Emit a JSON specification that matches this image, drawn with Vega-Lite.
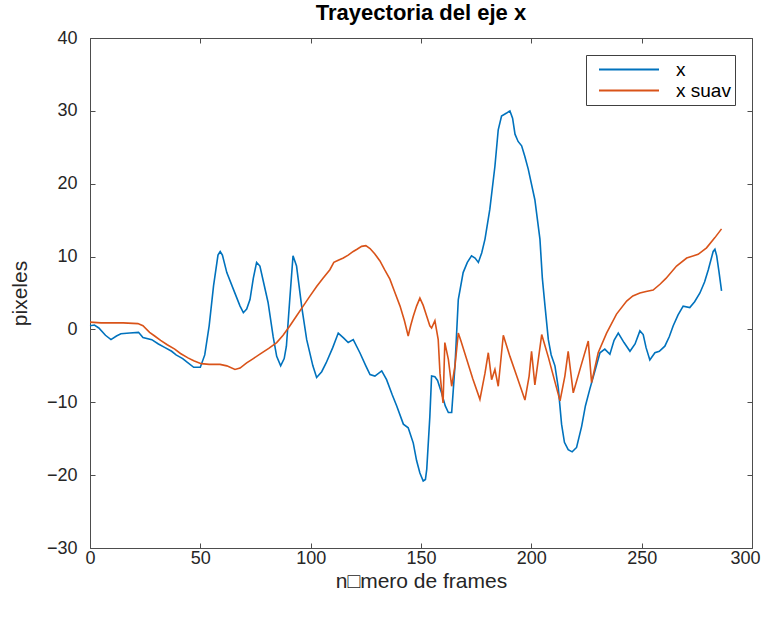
{
  "$schema": "https://vega.github.io/schema/vega-lite/v6.json",
  "autosize": {"type": "none"},
  "width": 662,
  "height": 510,
  "padding": {"left": 90, "top": 38, "right": 11, "bottom": 72},
  "background": "white",
  "title": {"text": "Trayectoria del eje x", "fontSize": 22, "font": "Liberation Sans", "fontWeight": "bold", "color": "#000000", "offset": 4},
  "config": {
    "view": {"stroke": null},
    "axis": {
      "domainColor": "#4d4d4d", "domainWidth": 1,
      "tickColor": "#4d4d4d", "tickSize": -5, "tickWidth": 1,
      "grid": false, "labelFlush": false,
      "labelFont": "Liberation Sans", "labelFontSize": 18, "labelColor": "#262626",
      "titleFont": "Liberation Sans", "titleFontSize": 21, "titleFontWeight": "normal", "titleColor": "#262626"
    }
  },
  "datasets": {
    "traj": [
      {"frame": 0, "pixeles": 0.5, "serie": "x"},
      {"frame": 2, "pixeles": 0.6, "serie": "x"},
      {"frame": 4, "pixeles": 0.2, "serie": "x"},
      {"frame": 7, "pixeles": -0.8, "serie": "x"},
      {"frame": 9.5, "pixeles": -1.4, "serie": "x"},
      {"frame": 12, "pixeles": -0.9, "serie": "x"},
      {"frame": 14, "pixeles": -0.6, "serie": "x"},
      {"frame": 18, "pixeles": -0.5, "serie": "x"},
      {"frame": 22, "pixeles": -0.4, "serie": "x"},
      {"frame": 24, "pixeles": -1.1, "serie": "x"},
      {"frame": 28, "pixeles": -1.4, "serie": "x"},
      {"frame": 31, "pixeles": -2.0, "serie": "x"},
      {"frame": 34, "pixeles": -2.5, "serie": "x"},
      {"frame": 37, "pixeles": -3.0, "serie": "x"},
      {"frame": 39, "pixeles": -3.5, "serie": "x"},
      {"frame": 42, "pixeles": -4.0, "serie": "x"},
      {"frame": 44, "pixeles": -4.5, "serie": "x"},
      {"frame": 47, "pixeles": -5.2, "serie": "x"},
      {"frame": 50, "pixeles": -5.2, "serie": "x"},
      {"frame": 52, "pixeles": -3.5, "serie": "x"},
      {"frame": 54, "pixeles": 0.5, "serie": "x"},
      {"frame": 56, "pixeles": 6.0, "serie": "x"},
      {"frame": 58, "pixeles": 10.2, "serie": "x"},
      {"frame": 59, "pixeles": 10.7, "serie": "x"},
      {"frame": 60, "pixeles": 10.2, "serie": "x"},
      {"frame": 62, "pixeles": 7.8, "serie": "x"},
      {"frame": 65, "pixeles": 5.5, "serie": "x"},
      {"frame": 68, "pixeles": 3.2, "serie": "x"},
      {"frame": 69.5, "pixeles": 2.3, "serie": "x"},
      {"frame": 71, "pixeles": 2.8, "serie": "x"},
      {"frame": 72.5, "pixeles": 4.1, "serie": "x"},
      {"frame": 74, "pixeles": 7.0, "serie": "x"},
      {"frame": 75.5, "pixeles": 9.2, "serie": "x"},
      {"frame": 77, "pixeles": 8.7, "serie": "x"},
      {"frame": 79, "pixeles": 6.0, "serie": "x"},
      {"frame": 80.7, "pixeles": 3.7, "serie": "x"},
      {"frame": 83, "pixeles": -1.0, "serie": "x"},
      {"frame": 84.6, "pixeles": -3.7, "serie": "x"},
      {"frame": 86.4, "pixeles": -5.0, "serie": "x"},
      {"frame": 88, "pixeles": -4.0, "serie": "x"},
      {"frame": 89, "pixeles": -2.3, "serie": "x"},
      {"frame": 90.5, "pixeles": 4.0, "serie": "x"},
      {"frame": 92, "pixeles": 10.1, "serie": "x"},
      {"frame": 93.6, "pixeles": 8.7, "serie": "x"},
      {"frame": 96, "pixeles": 3.0, "serie": "x"},
      {"frame": 98.2, "pixeles": -1.4, "serie": "x"},
      {"frame": 101, "pixeles": -5.0, "serie": "x"},
      {"frame": 102.7, "pixeles": -6.6, "serie": "x"},
      {"frame": 105, "pixeles": -5.8, "serie": "x"},
      {"frame": 107, "pixeles": -4.6, "serie": "x"},
      {"frame": 110, "pixeles": -2.5, "serie": "x"},
      {"frame": 112.5, "pixeles": -0.5, "serie": "x"},
      {"frame": 115, "pixeles": -1.2, "serie": "x"},
      {"frame": 117, "pixeles": -1.8, "serie": "x"},
      {"frame": 119.3, "pixeles": -1.4, "serie": "x"},
      {"frame": 122.3, "pixeles": -3.2, "serie": "x"},
      {"frame": 125, "pixeles": -5.0, "serie": "x"},
      {"frame": 126.9, "pixeles": -6.2, "serie": "x"},
      {"frame": 129.1, "pixeles": -6.4, "serie": "x"},
      {"frame": 132.2, "pixeles": -5.7, "serie": "x"},
      {"frame": 134.4, "pixeles": -6.9, "serie": "x"},
      {"frame": 137, "pixeles": -9.0, "serie": "x"},
      {"frame": 139, "pixeles": -10.5, "serie": "x"},
      {"frame": 142, "pixeles": -13.0, "serie": "x"},
      {"frame": 144.2, "pixeles": -13.5, "serie": "x"},
      {"frame": 146.5, "pixeles": -15.6, "serie": "x"},
      {"frame": 148, "pixeles": -18.0, "serie": "x"},
      {"frame": 149.5, "pixeles": -19.7, "serie": "x"},
      {"frame": 151, "pixeles": -20.8, "serie": "x"},
      {"frame": 152, "pixeles": -20.6, "serie": "x"},
      {"frame": 152.6, "pixeles": -19.2, "serie": "x"},
      {"frame": 154, "pixeles": -12.0, "serie": "x"},
      {"frame": 154.8, "pixeles": -6.4, "serie": "x"},
      {"frame": 156.3, "pixeles": -6.5, "serie": "x"},
      {"frame": 157.5, "pixeles": -7.0, "serie": "x"},
      {"frame": 159.3, "pixeles": -8.7, "serie": "x"},
      {"frame": 161, "pixeles": -10.5, "serie": "x"},
      {"frame": 162.4, "pixeles": -11.4, "serie": "x"},
      {"frame": 163.9, "pixeles": -11.4, "serie": "x"},
      {"frame": 165.4, "pixeles": -5.0, "serie": "x"},
      {"frame": 166.9, "pixeles": 4.1, "serie": "x"},
      {"frame": 169.1, "pixeles": 7.8, "serie": "x"},
      {"frame": 171, "pixeles": 9.2, "serie": "x"},
      {"frame": 172.9, "pixeles": 10.1, "serie": "x"},
      {"frame": 174.5, "pixeles": 9.8, "serie": "x"},
      {"frame": 176, "pixeles": 9.2, "serie": "x"},
      {"frame": 177.5, "pixeles": 10.5, "serie": "x"},
      {"frame": 179, "pixeles": 12.4, "serie": "x"},
      {"frame": 181.2, "pixeles": 16.5, "serie": "x"},
      {"frame": 183.5, "pixeles": 22.4, "serie": "x"},
      {"frame": 185, "pixeles": 27.4, "serie": "x"},
      {"frame": 186.5, "pixeles": 29.3, "serie": "x"},
      {"frame": 188.8, "pixeles": 29.7, "serie": "x"},
      {"frame": 190.3, "pixeles": 30.0, "serie": "x"},
      {"frame": 191.5, "pixeles": 29.0, "serie": "x"},
      {"frame": 192.6, "pixeles": 26.8, "serie": "x"},
      {"frame": 194, "pixeles": 25.8, "serie": "x"},
      {"frame": 195.6, "pixeles": 25.2, "serie": "x"},
      {"frame": 197, "pixeles": 23.8, "serie": "x"},
      {"frame": 198.6, "pixeles": 22.0, "serie": "x"},
      {"frame": 201.6, "pixeles": 17.8, "serie": "x"},
      {"frame": 203.9, "pixeles": 12.4, "serie": "x"},
      {"frame": 205, "pixeles": 7.0, "serie": "x"},
      {"frame": 206.2, "pixeles": 3.2, "serie": "x"},
      {"frame": 207.7, "pixeles": -1.4, "serie": "x"},
      {"frame": 209, "pixeles": -3.5, "serie": "x"},
      {"frame": 210.7, "pixeles": -5.0, "serie": "x"},
      {"frame": 212.2, "pixeles": -8.0, "serie": "x"},
      {"frame": 213.7, "pixeles": -13.0, "serie": "x"},
      {"frame": 215, "pixeles": -15.5, "serie": "x"},
      {"frame": 216.7, "pixeles": -16.5, "serie": "x"},
      {"frame": 218.5, "pixeles": -16.8, "serie": "x"},
      {"frame": 220.5, "pixeles": -16.2, "serie": "x"},
      {"frame": 222.8, "pixeles": -13.3, "serie": "x"},
      {"frame": 224.5, "pixeles": -10.5, "serie": "x"},
      {"frame": 226.5, "pixeles": -8.2, "serie": "x"},
      {"frame": 229, "pixeles": -5.5, "serie": "x"},
      {"frame": 231.1, "pixeles": -3.2, "serie": "x"},
      {"frame": 233.3, "pixeles": -2.7, "serie": "x"},
      {"frame": 235.6, "pixeles": -3.4, "serie": "x"},
      {"frame": 237.5, "pixeles": -1.5, "serie": "x"},
      {"frame": 239.4, "pixeles": -0.5, "serie": "x"},
      {"frame": 242, "pixeles": -1.8, "serie": "x"},
      {"frame": 244.7, "pixeles": -3.0, "serie": "x"},
      {"frame": 247, "pixeles": -2.0, "serie": "x"},
      {"frame": 249.2, "pixeles": -0.2, "serie": "x"},
      {"frame": 250.7, "pixeles": -0.7, "serie": "x"},
      {"frame": 252, "pixeles": -2.5, "serie": "x"},
      {"frame": 253.7, "pixeles": -4.2, "serie": "x"},
      {"frame": 256, "pixeles": -3.2, "serie": "x"},
      {"frame": 258, "pixeles": -3.0, "serie": "x"},
      {"frame": 260.5, "pixeles": -2.3, "serie": "x"},
      {"frame": 262.5, "pixeles": -1.0, "serie": "x"},
      {"frame": 264.3, "pixeles": 0.5, "serie": "x"},
      {"frame": 266.5, "pixeles": 2.0, "serie": "x"},
      {"frame": 268.8, "pixeles": 3.2, "serie": "x"},
      {"frame": 271.8, "pixeles": 3.0, "serie": "x"},
      {"frame": 274, "pixeles": 3.8, "serie": "x"},
      {"frame": 276.4, "pixeles": 5.0, "serie": "x"},
      {"frame": 278.5, "pixeles": 6.5, "serie": "x"},
      {"frame": 280.2, "pixeles": 8.2, "serie": "x"},
      {"frame": 282.4, "pixeles": 10.7, "serie": "x"},
      {"frame": 283.2, "pixeles": 11.0, "serie": "x"},
      {"frame": 284, "pixeles": 10.1, "serie": "x"},
      {"frame": 285, "pixeles": 8.0, "serie": "x"},
      {"frame": 286.2, "pixeles": 5.3, "serie": "x"},
      {"frame": 0, "pixeles": 1.0, "serie": "x suav"},
      {"frame": 5, "pixeles": 0.9, "serie": "x suav"},
      {"frame": 10, "pixeles": 0.9, "serie": "x suav"},
      {"frame": 15, "pixeles": 0.9, "serie": "x suav"},
      {"frame": 21.7, "pixeles": 0.8, "serie": "x suav"},
      {"frame": 24, "pixeles": 0.5, "serie": "x suav"},
      {"frame": 27, "pixeles": -0.4, "serie": "x suav"},
      {"frame": 29.3, "pixeles": -0.9, "serie": "x suav"},
      {"frame": 32, "pixeles": -1.5, "serie": "x suav"},
      {"frame": 35, "pixeles": -2.1, "serie": "x suav"},
      {"frame": 38.4, "pixeles": -2.7, "serie": "x suav"},
      {"frame": 41, "pixeles": -3.3, "serie": "x suav"},
      {"frame": 44.4, "pixeles": -3.9, "serie": "x suav"},
      {"frame": 47, "pixeles": -4.3, "serie": "x suav"},
      {"frame": 50.4, "pixeles": -4.7, "serie": "x suav"},
      {"frame": 54, "pixeles": -4.8, "serie": "x suav"},
      {"frame": 58.9, "pixeles": -4.8, "serie": "x suav"},
      {"frame": 62, "pixeles": -5.0, "serie": "x suav"},
      {"frame": 65.7, "pixeles": -5.5, "serie": "x suav"},
      {"frame": 68, "pixeles": -5.3, "serie": "x suav"},
      {"frame": 71, "pixeles": -4.6, "serie": "x suav"},
      {"frame": 74, "pixeles": -4.0, "serie": "x suav"},
      {"frame": 77, "pixeles": -3.4, "serie": "x suav"},
      {"frame": 81, "pixeles": -2.6, "serie": "x suav"},
      {"frame": 84.6, "pixeles": -1.8, "serie": "x suav"},
      {"frame": 87.5, "pixeles": -0.8, "serie": "x suav"},
      {"frame": 90.6, "pixeles": 0.5, "serie": "x suav"},
      {"frame": 93.5, "pixeles": 1.8, "serie": "x suav"},
      {"frame": 96.6, "pixeles": 3.2, "serie": "x suav"},
      {"frame": 99.5, "pixeles": 4.5, "serie": "x suav"},
      {"frame": 102.7, "pixeles": 5.9, "serie": "x suav"},
      {"frame": 105.5, "pixeles": 7.0, "serie": "x suav"},
      {"frame": 108.7, "pixeles": 8.2, "serie": "x suav"},
      {"frame": 110.5, "pixeles": 9.2, "serie": "x suav"},
      {"frame": 112.5, "pixeles": 9.5, "serie": "x suav"},
      {"frame": 114.8, "pixeles": 9.8, "serie": "x suav"},
      {"frame": 117, "pixeles": 10.2, "serie": "x suav"},
      {"frame": 119.3, "pixeles": 10.7, "serie": "x suav"},
      {"frame": 121, "pixeles": 11.0, "serie": "x suav"},
      {"frame": 123.1, "pixeles": 11.4, "serie": "x suav"},
      {"frame": 125, "pixeles": 11.5, "serie": "x suav"},
      {"frame": 126.9, "pixeles": 11.1, "serie": "x suav"},
      {"frame": 129, "pixeles": 10.4, "serie": "x suav"},
      {"frame": 131.4, "pixeles": 9.4, "serie": "x suav"},
      {"frame": 133.5, "pixeles": 8.2, "serie": "x suav"},
      {"frame": 135.9, "pixeles": 6.9, "serie": "x suav"},
      {"frame": 138, "pixeles": 5.2, "serie": "x suav"},
      {"frame": 140.5, "pixeles": 3.2, "serie": "x suav"},
      {"frame": 142.5, "pixeles": 1.2, "serie": "x suav"},
      {"frame": 144.2, "pixeles": -0.9, "serie": "x suav"},
      {"frame": 145.3, "pixeles": 0.5, "serie": "x suav"},
      {"frame": 146.5, "pixeles": 1.8, "serie": "x suav"},
      {"frame": 148, "pixeles": 3.2, "serie": "x suav"},
      {"frame": 149.5, "pixeles": 4.3, "serie": "x suav"},
      {"frame": 151, "pixeles": 3.3, "serie": "x suav"},
      {"frame": 152.6, "pixeles": 1.8, "serie": "x suav"},
      {"frame": 154, "pixeles": 0.5, "serie": "x suav"},
      {"frame": 154.8, "pixeles": 0.2, "serie": "x suav"},
      {"frame": 156.3, "pixeles": 1.2, "serie": "x suav"},
      {"frame": 157.8, "pixeles": -1.4, "serie": "x suav"},
      {"frame": 158.6, "pixeles": -6.0, "serie": "x suav"},
      {"frame": 159.3, "pixeles": -8.2, "serie": "x suav"},
      {"frame": 160, "pixeles": -10.1, "serie": "x suav"},
      {"frame": 160.8, "pixeles": -1.8, "serie": "x suav"},
      {"frame": 162.4, "pixeles": -4.1, "serie": "x suav"},
      {"frame": 163.9, "pixeles": -7.8, "serie": "x suav"},
      {"frame": 165.4, "pixeles": -5.0, "serie": "x suav"},
      {"frame": 166.9, "pixeles": -0.5, "serie": "x suav"},
      {"frame": 168, "pixeles": -1.5, "serie": "x suav"},
      {"frame": 170.7, "pixeles": -4.1, "serie": "x suav"},
      {"frame": 173.5, "pixeles": -6.8, "serie": "x suav"},
      {"frame": 176.7, "pixeles": -9.6, "serie": "x suav"},
      {"frame": 179, "pixeles": -6.0, "serie": "x suav"},
      {"frame": 180.5, "pixeles": -3.2, "serie": "x suav"},
      {"frame": 182, "pixeles": -6.9, "serie": "x suav"},
      {"frame": 183.5, "pixeles": -5.5, "serie": "x suav"},
      {"frame": 185, "pixeles": -7.8, "serie": "x suav"},
      {"frame": 187.3, "pixeles": -0.8, "serie": "x suav"},
      {"frame": 190.3, "pixeles": -3.7, "serie": "x suav"},
      {"frame": 193.5, "pixeles": -6.5, "serie": "x suav"},
      {"frame": 197.1, "pixeles": -9.7, "serie": "x suav"},
      {"frame": 199, "pixeles": -6.4, "serie": "x suav"},
      {"frame": 200.1, "pixeles": -3.0, "serie": "x suav"},
      {"frame": 201.6, "pixeles": -7.6, "serie": "x suav"},
      {"frame": 204.7, "pixeles": -0.7, "serie": "x suav"},
      {"frame": 207.7, "pixeles": -3.8, "serie": "x suav"},
      {"frame": 210.7, "pixeles": -7.2, "serie": "x suav"},
      {"frame": 213, "pixeles": -9.8, "serie": "x suav"},
      {"frame": 215.2, "pixeles": -6.4, "serie": "x suav"},
      {"frame": 216.7, "pixeles": -3.0, "serie": "x suav"},
      {"frame": 219, "pixeles": -8.7, "serie": "x suav"},
      {"frame": 222.5, "pixeles": -5.0, "serie": "x suav"},
      {"frame": 225.8, "pixeles": -1.6, "serie": "x suav"},
      {"frame": 227.3, "pixeles": -7.3, "serie": "x suav"},
      {"frame": 230.3, "pixeles": -3.2, "serie": "x suav"},
      {"frame": 234.1, "pixeles": -0.5, "serie": "x suav"},
      {"frame": 238.6, "pixeles": 2.1, "serie": "x suav"},
      {"frame": 243.2, "pixeles": 3.9, "serie": "x suav"},
      {"frame": 246, "pixeles": 4.6, "serie": "x suav"},
      {"frame": 249.2, "pixeles": 5.0, "serie": "x suav"},
      {"frame": 252, "pixeles": 5.2, "serie": "x suav"},
      {"frame": 255.2, "pixeles": 5.4, "serie": "x suav"},
      {"frame": 258.3, "pixeles": 6.2, "serie": "x suav"},
      {"frame": 261, "pixeles": 7.0, "serie": "x suav"},
      {"frame": 265.8, "pixeles": 8.7, "serie": "x suav"},
      {"frame": 270.4, "pixeles": 9.8, "serie": "x suav"},
      {"frame": 275.6, "pixeles": 10.3, "serie": "x suav"},
      {"frame": 279.4, "pixeles": 11.2, "serie": "x suav"},
      {"frame": 283.2, "pixeles": 12.6, "serie": "x suav"},
      {"frame": 286.2, "pixeles": 13.8, "serie": "x suav"}
    ]
  },
  "data": {"name": "traj"},
  "layer": [
    {
      "mark": {"type": "line", "strokeWidth": 1.6},
      "encoding": {
        "x": {"field": "frame", "type": "quantitative", "scale": {"domain": [0, 300], "nice": false, "zero": false},
              "axis": {"orient": "bottom", "title": "n□mero de frames", "values": [0, 50, 100, 150, 200, 250, 300],
                       "labelPadding": 6, "titlePadding": 3,
                       "labelOffset": {"condition": {"test": "datum.value == 300", "value": -7}, "value": 0}}},
        "y": {"field": "pixeles", "type": "quantitative", "scale": {"domain": [-30, 40], "nice": false, "zero": false},
              "axis": {"orient": "left", "title": "pixeles", "values": [-30, -20, -10, 0, 10, 20, 30, 40], "labelPadding": 18, "titlePadding": 16}},
        "color": {"field": "serie", "type": "nominal",
                  "scale": {"domain": ["x", "x suav"], "range": ["#0072BD", "#D95319"]},
                  "legend": {"orient": "none", "legendX": 496, "legendY": 17, "title": null,
                             "symbolType": "stroke", "symbolSize": 3600, "symbolStrokeWidth": 2,
                             "symbolOffset": 8, "clipHeight": 21,
                             "labelFont": "Liberation Sans", "labelFontSize": 19, "labelColor": "#000000", "labelOffset": 16,
                             "labelExpr": "datum.label + '\u00a0\u00a0\u00a0\u00a0\u00a0\u00a0'",
                             "rowPadding": 0,
                             "strokeColor": "#404040", "fillColor": "#ffffff", "padding": 4}}
      }
    },
    {
      "mark": {"type": "line", "opacity": 0},
      "encoding": {
        "x": {"field": "frame", "type": "quantitative",
              "axis": {"orient": "top", "labels": false, "title": null, "values": [0, 50, 100, 150, 200, 250, 300]}},
        "y": {"field": "pixeles", "type": "quantitative",
              "axis": {"orient": "right", "labels": false, "title": null, "values": [-30, -20, -10, 0, 10, 20, 30, 40]}},
        "detail": {"field": "serie"}
      }
    }
  ],
  "resolve": {"axis": {"x": "independent", "y": "independent"}}
}
